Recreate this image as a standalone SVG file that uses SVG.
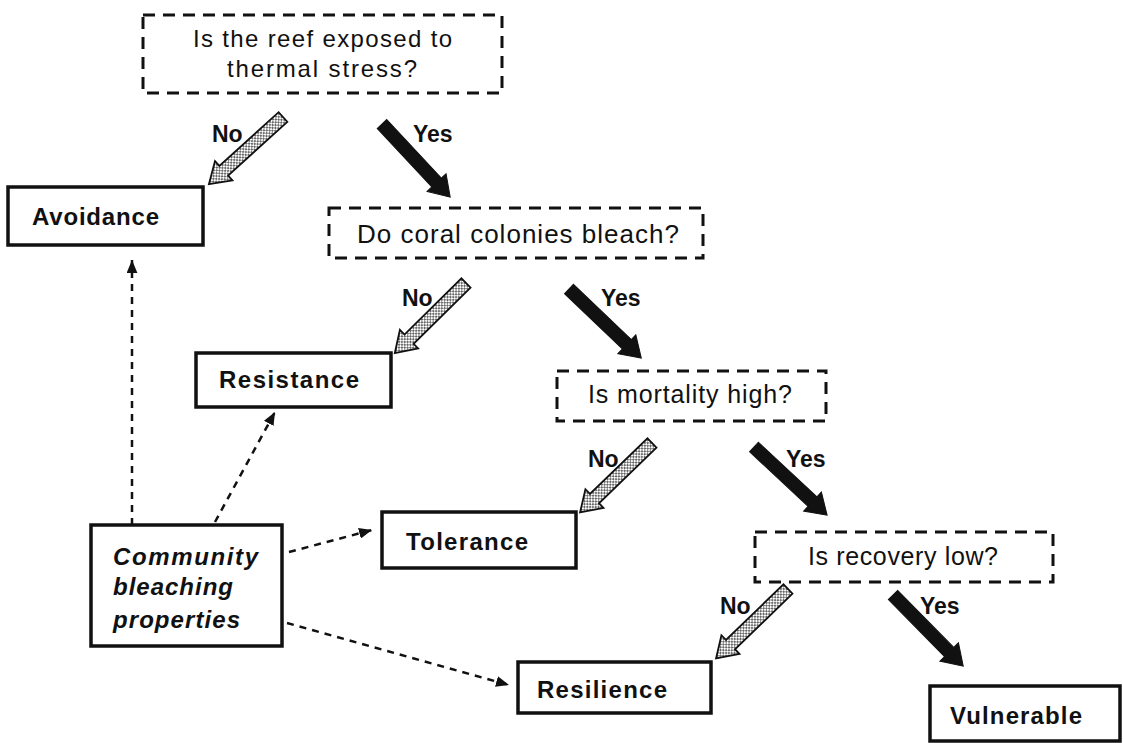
<svg xmlns="http://www.w3.org/2000/svg" width="1123" height="743" viewBox="0 0 1123 743">
<style>
.q{fill:#fff;stroke:#111;stroke-width:3;stroke-dasharray:12 8}
.box{fill:#fff;stroke:#111;stroke-width:3.5}
.qt{font-family:"Liberation Sans",Arial,sans-serif;font-size:25px;fill:#111}
.bt{font-family:"Liberation Sans",Arial,sans-serif;font-size:24px;font-weight:bold;fill:#111}
.it{font-family:"Liberation Sans",Arial,sans-serif;font-size:24px;font-weight:bold;font-style:italic;fill:#111}
.lb{font-family:"Liberation Sans",Arial,sans-serif;font-size:23px;font-weight:bold;fill:#111}
.dash{fill:none;stroke:#111;stroke-width:2.5;stroke-dasharray:7 6}
.no{fill:url(#stip);stroke:#111;stroke-width:1.8}
.yes{fill:#111;stroke:#111;stroke-width:1}
</style>
<defs>
<pattern id="stip" width="4" height="4" patternUnits="userSpaceOnUse">
<rect width="4" height="4" fill="#fff"/>
<circle cx="1" cy="1" r="0.9" fill="#222"/>
<circle cx="3" cy="3" r="0.9" fill="#222"/>
</pattern>
<marker id="ah" viewBox="0 0 12 10" refX="12" refY="5" markerWidth="13" markerHeight="11" markerUnits="userSpaceOnUse" orient="auto">
<path d="M0,0 L12,5 L0,10 Z" fill="#111"/>
</marker>
<polygon id="blk" points="0,-6.5 80,-6.5 80,-13 100,0 80,13 80,6.5 0,6.5"/>
</defs>
<rect width="1123" height="743" fill="#fff"/>

<g id="connectors">
<line class="dash" x1="132" y1="525" x2="132" y2="260" marker-end="url(#ah)"/>
<line class="dash" x1="215" y1="522" x2="275" y2="412" marker-end="url(#ah)"/>
<line class="dash" x1="289" y1="552" x2="372" y2="530" marker-end="url(#ah)"/>
<line class="dash" x1="287" y1="623" x2="509" y2="685" marker-end="url(#ah)"/>

<use href="#blk" class="no" transform="translate(283,117) rotate(137.8)"/>
<use href="#blk" class="yes" transform="translate(382,124) rotate(47)"/>
<use href="#blk" class="no" transform="translate(466,283) rotate(135.4)"/>
<use href="#blk" class="yes" transform="translate(569,289) rotate(43.7)"/>
<use href="#blk" class="no" transform="translate(652,443) rotate(136)"/>
<use href="#blk" class="yes" transform="translate(754,447) rotate(43)"/>
<use href="#blk" class="no" transform="translate(788,589) rotate(136)"/>
<use href="#blk" class="yes" transform="translate(893,595) rotate(45.4)"/>

<text class="lb" x="212" y="142">No</text>
<text class="lb" x="413" y="142">Yes</text>
<text class="lb" x="402" y="306">No</text>
<text class="lb" x="601" y="306">Yes</text>
<text class="lb" x="588" y="467">No</text>
<text class="lb" x="786" y="467">Yes</text>
<text class="lb" x="720" y="614">No</text>
<text class="lb" x="920" y="614">Yes</text>
</g>

<g id="q-thermal">
<rect class="q" x="143" y="15" width="359" height="78"/>
<text class="qt" x="193" y="47" style="font-size:24px" textLength="259" lengthAdjust="spacing">Is the reef exposed to</text>
<text class="qt" x="227" y="77" style="font-size:24px" textLength="190" lengthAdjust="spacing">thermal stress?</text>
</g>
<g id="q-bleach">
<rect class="q" x="329" y="208" width="374" height="50"/>
<text class="qt" x="357" y="243" style="font-size:26px" textLength="322" lengthAdjust="spacing">Do coral colonies bleach?</text>
</g>
<g id="q-mortality">
<rect class="q" x="557" y="371" width="269" height="50"/>
<text class="qt" x="588" y="403" textLength="204" lengthAdjust="spacing">Is mortality high?</text>
</g>
<g id="q-recovery">
<rect class="q" x="755" y="532" width="298" height="50"/>
<text class="qt" x="808" y="565" textLength="190" lengthAdjust="spacing">Is recovery low?</text>
</g>

<g id="avoidance">
<rect class="box" x="8" y="187" width="195" height="58"/>
<text class="bt" x="32" y="225" textLength="127" lengthAdjust="spacing">Avoidance</text>
</g>
<g id="resistance">
<rect class="box" x="196" y="353" width="195" height="54"/>
<text class="bt" x="219" y="388" textLength="140" lengthAdjust="spacing">Resistance</text>
</g>
<g id="tolerance">
<rect class="box" x="382" y="512" width="194" height="56"/>
<text class="bt" x="406" y="550" textLength="122" lengthAdjust="spacing">Tolerance</text>
</g>
<g id="resilience">
<rect class="box" x="518" y="662" width="193" height="51"/>
<text class="bt" x="537" y="698" textLength="130" lengthAdjust="spacing">Resilience</text>
</g>
<g id="vulnerable">
<rect class="box" x="930" y="686" width="190" height="55"/>
<text class="bt" x="950" y="724" textLength="132" lengthAdjust="spacing">Vulnerable</text>
</g>
<g id="community">
<rect class="box" x="91" y="525" width="191" height="121"/>
<text class="it" x="113" y="565" textLength="145" lengthAdjust="spacing">Community</text>
<text class="it" x="113" y="595" textLength="120" lengthAdjust="spacing">bleaching</text>
<text class="it" x="113" y="628" textLength="127" lengthAdjust="spacing">properties</text>
</g>
</svg>
